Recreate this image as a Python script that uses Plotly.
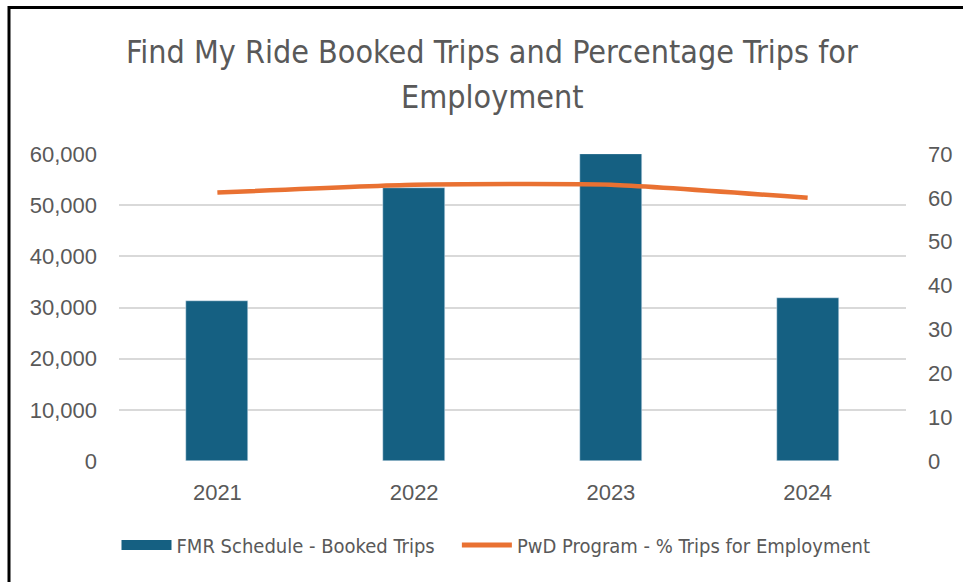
import plotly.graph_objects as go

years = ["2021", "2022", "2023", "2024"]
booked_trips = [31300, 53300, 60000, 31800]
pct_employment = [61.2, 63.0, 63.0, 60.0]
left_ticks = [0, 10000, 20000, 30000, 40000, 50000, 60000]
right_ticks = [0, 10, 20, 30, 40, 50, 60, 70]

BAR_COLOR = "#156082"
LINE_COLOR = "#E97132"
TEXT = "#595959"
NARROW = "Liberation Sans Narrow, DejaVu Sans Condensed, Arial Narrow, sans-serif"
TICKFONT = "Liberation Sans, Arial, sans-serif"

fig = go.Figure()
fig.add_trace(go.Bar(x=years, y=booked_trips, marker_color=BAR_COLOR, width=0.315,
                     name="FMR Schedule - Booked Trips", showlegend=False, yaxis="y"))
fig.add_trace(go.Scatter(x=years, y=pct_employment, mode="lines",
                         line=dict(color=LINE_COLOR, width=4.5, shape="spline", smoothing=0.5),
                         name="PwD Program - % Trips for Employment", showlegend=False, yaxis="y2"))
# legend entries
fig.add_trace(go.Scatter(x=[None], y=[None], mode="lines", line=dict(color=BAR_COLOR, width=13),
                         name="FMR Schedule - Booked Trips" + "\u00a0" * 3, yaxis="y"))
fig.add_trace(go.Scatter(x=[None], y=[None], mode="lines", line=dict(color=LINE_COLOR, width=5),
                         name="PwD Program - % Trips for Employment", yaxis="y2"))

L, R, T, B = 119, 57, 154, 121
W, H = 963, 582
pw, ph = W - L - R, H - T - B
def px(xp): return (xp - L) / pw
def py(yp): return (H - B - yp) / ph

fig.update_layout(
    width=W, height=H,
    margin=dict(l=L, r=R, t=T, b=B),
    paper_bgcolor="white", plot_bgcolor="white",
    bargap=0,
    xaxis=dict(type="category", showgrid=False, showline=False, ticks="",
               tickfont=dict(family=TICKFONT, size=22, color=TEXT), ticklabelstandoff=16),
    yaxis=dict(range=[0, 60000], tickvals=left_ticks, tickformat=",", showgrid=True, gridcolor="#D9D9D9", gridwidth=1.5,
               zeroline=False, showline=False, ticks="",
               tickfont=dict(family=TICKFONT, size=22, color=TEXT), ticklabelstandoff=21),
    yaxis2=dict(range=[0, 70], tickvals=right_ticks, overlaying="y", side="right", showgrid=False, zeroline=False,
                showline=False, ticks="", tickfont=dict(family=TICKFONT, size=22, color=TEXT),
                ticklabelstandoff=21),
    legend=dict(orientation="h", x=px(496), xanchor="center", y=py(545), yanchor="middle",
                font=dict(family=NARROW, size=20, color=TEXT), itemwidth=50, traceorder="normal"),
    annotations=[
        dict(text="Find My Ride Booked Trips and Percentage Trips for", xref="paper", yref="paper",
             x=px(492), y=py(52), xanchor="center", yanchor="middle", showarrow=False,
             font=dict(family=NARROW, size=32, color=TEXT)),
        dict(text="Employment", xref="paper", yref="paper",
             x=px(492), y=py(97), xanchor="center", yanchor="middle", showarrow=False,
             font=dict(family=NARROW, size=32, color=TEXT)),
    ],
    shapes=[
        dict(type="line", xref="paper", yref="paper", x0=px(9), x1=px(9), y0=py(6), y1=py(600),
             line=dict(color="black", width=3)),
        dict(type="line", xref="paper", yref="paper", x0=px(8), x1=px(1000), y0=py(7.5), y1=py(7.5),
             line=dict(color="black", width=3)),
    ],
)

fig.write_html("out.html", config={"displayModeBar": False},
               post_script="document.body.style.margin='0';document.body.style.overflow='hidden';")
